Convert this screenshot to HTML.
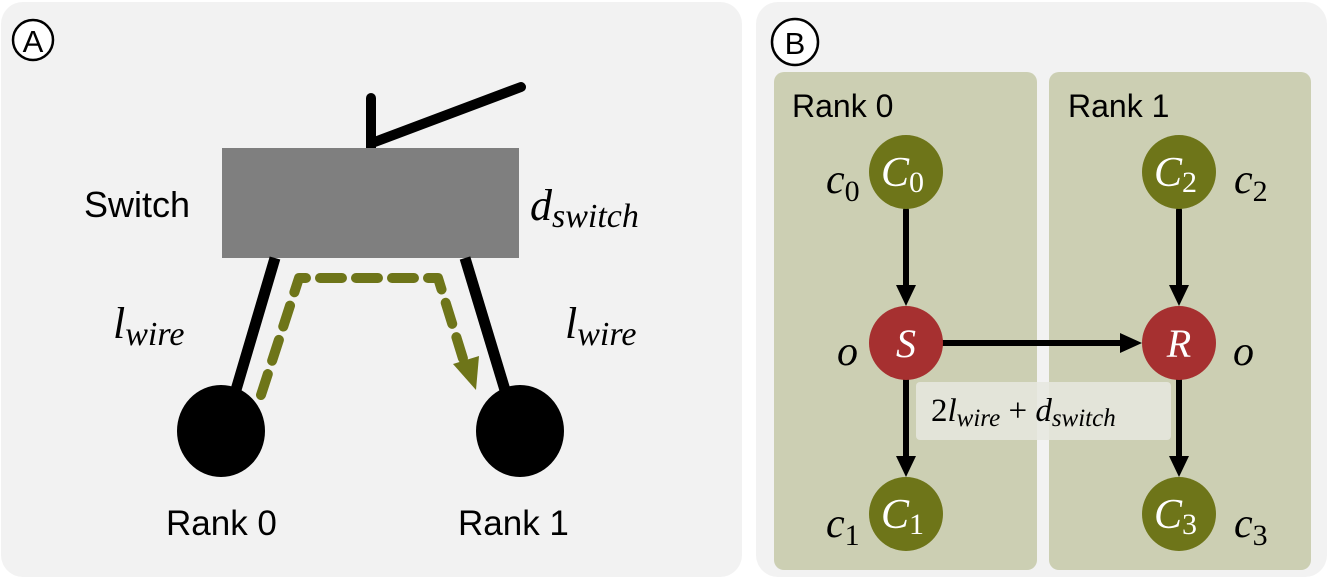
<!DOCTYPE html>
<html><head><meta charset="utf-8"><style>
html,body{margin:0;padding:0;background:#fff}
svg{display:block}
.t{font-family:"Liberation Sans",sans-serif;fill:#000}
.m{font-family:"Liberation Serif",serif;font-style:italic;fill:#000}
.n{font-style:normal}
.w{fill:#fff}
</style></head><body>
<svg width="1329" height="579" viewBox="0 0 1329 579" xmlns="http://www.w3.org/2000/svg">
<!-- Panel A -->
<rect x="1" y="2" width="741" height="575" rx="22" fill="#f2f2f2"/>
<circle cx="33" cy="40" r="20" fill="#fff" stroke="#000" stroke-width="2.5"/>
<text class="t" x="33" y="52" font-size="31" text-anchor="middle">A</text>
<line x1="371" y1="98" x2="371" y2="150" stroke="#000" stroke-width="10" stroke-linecap="round"/>
<line x1="372" y1="143" x2="521" y2="87" stroke="#000" stroke-width="10" stroke-linecap="round"/>
<rect x="222" y="148" width="297" height="110" fill="#7f7f7f"/>
<line x1="275" y1="258" x2="233" y2="400" stroke="#000" stroke-width="11"/>
<line x1="465" y1="258" x2="508" y2="400" stroke="#000" stroke-width="11"/>
<ellipse cx="221" cy="431" rx="44" ry="46" fill="#000"/>
<ellipse cx="520" cy="431" rx="44" ry="46" fill="#000"/>
<path d="M261,395 L299,278 L438,278 L465,365" fill="none" stroke="#6e7519" stroke-width="10" stroke-dasharray="22,14" stroke-linecap="round" stroke-linejoin="round"/>
<path d="M453,364 L479,356 L476,390 z" fill="#6e7519"/>
<text class="t" x="84" y="217" font-size="36">Switch</text>
<text class="m" x="530" y="220" font-size="44">d<tspan font-size="34" dy="7">switch</tspan></text>
<text class="m" x="113" y="338" font-size="44">l<tspan font-size="34" dy="7">wire</tspan></text>
<text class="m" x="565" y="338" font-size="44">l<tspan font-size="34" dy="7">wire</tspan></text>
<text class="t" x="166" y="535" font-size="35">Rank 0</text>
<text class="t" x="458" y="535" font-size="35">Rank 1</text>
<!-- Panel B -->
<rect x="756" y="2" width="571" height="575" rx="22" fill="#f2f2f2"/>
<circle cx="795" cy="42" r="23" fill="#fff" stroke="#000" stroke-width="2.5"/>
<text class="t" x="795" y="54" font-size="31" text-anchor="middle">B</text>
<rect x="774" y="72" width="263" height="498" rx="10" fill="#cccfb3"/>
<rect x="1049" y="72" width="262" height="498" rx="10" fill="#cccfb3"/>
<text class="t" x="792" y="117" font-size="32">Rank 0</text>
<text class="t" x="1068" y="117" font-size="32">Rank 1</text>
<g stroke="#000" stroke-width="6" stroke-linecap="round">
<line x1="906" y1="210" x2="906" y2="290"/>
<line x1="1179" y1="210" x2="1179" y2="290"/>
<line x1="906" y1="380" x2="906" y2="460"/>
<line x1="1179" y1="380" x2="1179" y2="460"/>
<line x1="943" y1="343" x2="1125" y2="343"/>
</g>
<g fill="#000">
<path d="M896,285 L916,285 L906,306 z"/>
<path d="M1169,285 L1189,285 L1179,306 z"/>
<path d="M896,456 L916,456 L906,477 z"/>
<path d="M1169,456 L1189,456 L1179,477 z"/>
<path d="M1120,333 L1120,353 L1142,343 z"/>
</g>
<rect x="916" y="382" width="255" height="58" rx="4" fill="#e6e7df" fill-opacity="0.85"/>
<circle cx="906" cy="172" r="37" fill="#6e7519"/>
<circle cx="1179" cy="172" r="37" fill="#6e7519"/>
<circle cx="906" cy="343" r="37" fill="#a63030"/>
<circle cx="1179" cy="343" r="37" fill="#a63030"/>
<circle cx="906" cy="514" r="37" fill="#6e7519"/>
<circle cx="1179" cy="514" r="37" fill="#6e7519"/>
<text class="m w" x="881" y="186" font-size="42">C<tspan class="n" font-size="30" dy="6">0</tspan></text>
<text class="m w" x="1154" y="186" font-size="42">C<tspan class="n" font-size="30" dy="6">2</tspan></text>
<text class="m w" x="881" y="528" font-size="42">C<tspan class="n" font-size="30" dy="6">1</tspan></text>
<text class="m w" x="1154" y="528" font-size="42">C<tspan class="n" font-size="30" dy="6">3</tspan></text>
<text class="m w" x="906" y="357" font-size="40" text-anchor="middle">S</text>
<text class="m w" x="1179" y="357" font-size="40" text-anchor="middle">R</text>
<text class="m" x="826" y="193" font-size="42">c<tspan class="n" font-size="30" dy="8">0</tspan></text>
<text class="m" x="1234" y="193" font-size="42">c<tspan class="n" font-size="30" dy="8">2</tspan></text>
<text class="m" x="826" y="537" font-size="42">c<tspan class="n" font-size="30" dy="8">1</tspan></text>
<text class="m" x="1234" y="537" font-size="42">c<tspan class="n" font-size="30" dy="8">3</tspan></text>
<text class="m" x="837" y="365" font-size="42">o</text>
<text class="m" x="1233" y="365" font-size="42">o</text>
<text class="m" x="931" y="421" font-size="33"><tspan class="n">2</tspan>l<tspan font-size="25" dy="5">wire</tspan><tspan dy="-5" class="n"> + </tspan>d<tspan font-size="25" dy="5">switch</tspan></text>
</svg>
</body></html>
